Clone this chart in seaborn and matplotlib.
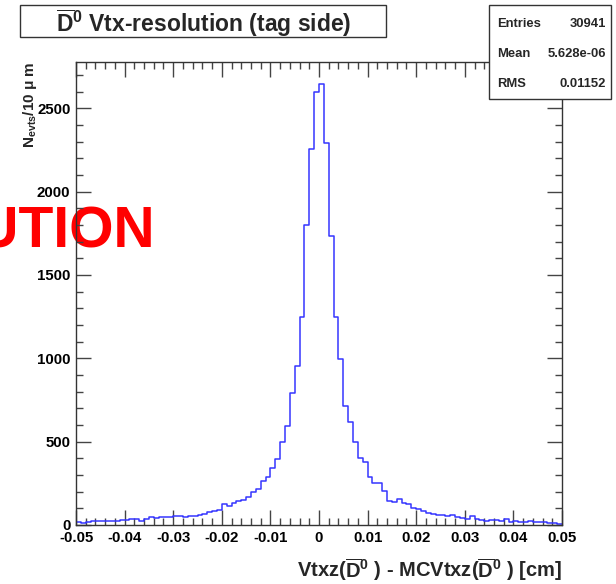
import numpy as np
import pandas as pd
import matplotlib
matplotlib.use("Agg")
import matplotlib.pyplot as plt
import seaborn as sns
from matplotlib.ticker import FixedLocator, MultipleLocator
from matplotlib.patches import Rectangle

# ---------------- data ----------------
x_lo = -0.05
x_hi = 0.05
bin_width = 0.001  # 10 um

counts = [
    16, 10, 20, 26, 24, 24, 24, 24, 26, 30,
    28, 38, 38, 26, 36, 48, 44, 48, 48, 48,
    54, 53, 50, 56, 55, 57, 68, 78, 86, 90,
    126, 114, 134, 142, 148, 166, 198, 216, 264, 286,
    344, 398, 497, 594, 794, 954, 1245, 1802, 2256, 2600,
    2648, 2290, 1736, 1246, 998, 716, 616, 496, 400, 376,
    290, 252, 254, 204, 146, 138, 156, 132, 126, 104,
    96, 86, 74, 66, 58, 60, 52, 58, 48, 40,
    38, 54, 38, 30, 26, 30, 30, 26, 34, 20,
    22, 20, 20, 26, 20, 16, 16, 14, 12, 6,
]

x_ticks = [-0.05, -0.04, -0.03, -0.02, -0.01, 0.0, 0.01, 0.02, 0.03, 0.04, 0.05]
x_tick_labels = ["-0.05", "-0.04", "-0.03", "-0.02", "-0.01", "0",
                 "0.01", "0.02", "0.03", "0.04", "0.05"]
y_ticks = [0, 500, 1000, 1500, 2000, 2500]
y_tick_labels = ["0", "500", "1000", "1500", "2000", "2500"]
y_max = 2780

title_text = r"$\overline{\mathrm{D}}^{\mathrm{0}}$ Vtx-resolution (tag side)"
x_label = (r"Vtxz($\overline{\mathrm{D}}^{\mathrm{0}}$ ) - "
           r"MCVtxz($\overline{\mathrm{D}}^{\mathrm{0}}$ ) [cm]")
y_label = r"N$_{\mathrm{evts}}$/10 μ m"
stats_names = ["Entries", "Mean", "RMS"]
stats_values = ["30941", "5.628e-06", "0.01152"]
watermark = "RESOLUTION"

# ---------------- style ----------------
sns.set_theme(style="ticks")
plt.rcParams["font.family"] = ["Liberation Sans", "DejaVu Sans"]
plt.rcParams["font.weight"] = "bold"
plt.rcParams["mathtext.fontset"] = "custom"
plt.rcParams["mathtext.rm"] = "Liberation Sans:bold"
plt.rcParams["mathtext.it"] = "Liberation Sans:bold"
plt.rcParams["mathtext.bf"] = "Liberation Sans:bold"
plt.rcParams["mathtext.sf"] = "Liberation Sans:bold"

W, H = 616, 584
fig = plt.figure(figsize=(W / 100, H / 100), dpi=100)
fig.patch.set_facecolor("white")

def fx(px):
    return px / W

def fy(py):
    return 1 - py / H

ax_l, ax_r, ax_t, ax_b = 76, 562, 61.5, 525
ax = fig.add_axes([fx(ax_l), fy(ax_b), (ax_r - ax_l) / W, (ax_b - ax_t) / H], zorder=2)
ax.patch.set_alpha(0)

centers = [x_lo + bin_width * (i + 0.5) for i in range(len(counts))]
df = pd.DataFrame({"dz": centers, "n": counts})
sns.histplot(data=df, x="dz", weights="n", binwidth=bin_width, binrange=(x_lo, x_hi),
             element="step", fill=False, color="#3535ff", linewidth=1.1, ax=ax)

ax.set_xlim(x_lo, x_hi)
ax.set_ylim(0, y_max)
ax.set_xlabel("")
ax.set_ylabel("")
ax.xaxis.set_major_locator(FixedLocator(x_ticks))
ax.set_xticklabels(x_tick_labels)
ax.xaxis.set_minor_locator(MultipleLocator(0.002))
ax.yaxis.set_major_locator(FixedLocator(y_ticks))
ax.set_yticklabels(y_tick_labels)
ax.yaxis.set_minor_locator(MultipleLocator(100))

tick_col = "#444444"
ax.tick_params(which="both", direction="in", top=True, right=True, color=tick_col, width=1)
ax.tick_params(which="major", length=10.5)
ax.tick_params(which="minor", length=5)
ax.tick_params(axis="x", which="major", pad=4, labelsize=10.8, labelcolor="black")
ax.tick_params(axis="y", which="major", pad=4, labelsize=10.8, labelcolor="black")
for lab in ax.get_xticklabels() + ax.get_yticklabels():
    lab.set_fontweight("bold")
for sp in ax.spines.values():
    sp.set_visible(True)
    sp.set_color("#333333")
    sp.set_linewidth(1)

# axis titles
fig.text(fx(562), fy(577), x_label, ha="right", va="baseline", fontsize=14.5, fontweight="bold")
fig.text(fx(30), fy(61.5), y_label, rotation=90, ha="center", va="top", fontsize=11, fontweight="bold")

# title box
fig.add_artist(Rectangle((fx(20), fy(37)), (386 - 20) / W, (37 - 5) / H, transform=fig.transFigure,
                         facecolor="white", edgecolor="#333333", linewidth=1, zorder=5))
fig.text(fx(204), fy(32), title_text, ha="center", va="baseline", fontsize=16.5, fontweight="bold",
         zorder=6)

# stats box
fig.add_artist(Rectangle((fx(489), fy(99)), (611 - 489) / W, (99 - 5) / H, transform=fig.transFigure,
                         facecolor="white", edgecolor="#333333", linewidth=1, zorder=5))
for i, (nm, val) in enumerate(zip(stats_names, stats_values)):
    yy = 27 + 30 * i
    fig.text(fx(497), fy(yy), nm, ha="left", va="baseline", fontsize=9.4, fontweight="bold", zorder=6)
    fig.text(fx(606), fy(yy), val, ha="right", va="baseline", fontsize=9.4, fontweight="bold", zorder=6)

# red watermark (partially outside the canvas)
fig.text(fx(155), fy(247), watermark, ha="right", va="baseline", fontsize=41, fontweight="bold",
         color="#ff0000", zorder=1)

fig.savefig("out.png", dpi=100)
